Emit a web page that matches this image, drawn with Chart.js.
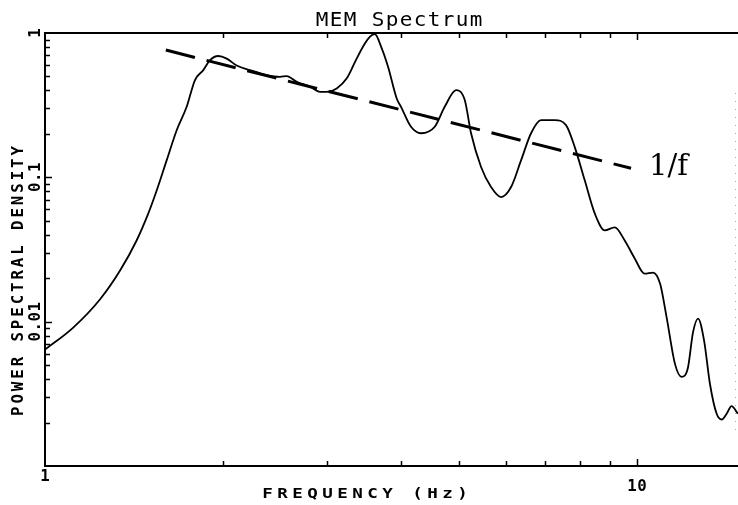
<!DOCTYPE html>
<html>
<head>
<meta charset="utf-8">
<script src="https://cdn.jsdelivr.net/npm/chart.js@4.4.1/dist/chart.umd.min.js"></script>
<style>
  html, body { margin: 0; padding: 0; background: #fff; }
  #wrap { width: 738px; height: 505px; }
</style>
</head>
<body>
<div id="wrap"><canvas id="c" width="738" height="505"></canvas></div>
<script>
// Maximum-entropy power spectrum (frequency in Hz, power spectral density)
const freq = [1.000, 1.116, 1.239, 1.339, 1.428, 1.494, 1.544, 1.605, 1.669, 1.735,
  1.792, 1.851, 1.900, 1.962, 2.027, 2.108, 2.220, 2.369, 2.494, 2.560,
  2.662, 2.804, 2.914, 2.991, 3.110, 3.234, 3.362, 3.472, 3.540, 3.605,
  3.705, 3.797, 3.927, 3.994, 4.152, 4.317, 4.553, 4.733, 4.947, 5.117,
  5.244, 5.452, 5.668, 5.893, 6.127, 6.369, 6.622, 6.884, 7.261, 7.586,
  7.849, 8.160, 8.484, 8.820, 9.170, 9.533, 9.911, 10.30, 10.64, 10.94,
  11.22, 11.59, 11.89, 12.19, 12.43, 12.68, 12.98, 13.28, 13.63, 13.90,
  14.17, 14.44, 14.81];
const psd = [0.0064, 0.0091, 0.0143, 0.0226, 0.0365, 0.056, 0.081, 0.131, 0.212, 0.308,
  0.472, 0.553, 0.649, 0.693, 0.665, 0.595, 0.553, 0.511, 0.497, 0.503,
  0.459, 0.424, 0.391, 0.391, 0.413, 0.485, 0.667, 0.848, 0.943, 0.984,
  0.783, 0.583, 0.352, 0.308, 0.224, 0.202, 0.224, 0.308, 0.402, 0.343,
  0.202, 0.118, 0.0857, 0.073, 0.0857, 0.131, 0.202, 0.249, 0.249, 0.230,
  0.162, 0.0953, 0.0562, 0.0429, 0.045, 0.0365, 0.0274, 0.0215, 0.0219, 0.0183,
  0.0107, 0.0051, 0.00415, 0.0048, 0.0084, 0.0105, 0.0074, 0.0037, 0.0023, 0.0021,
  0.0023, 0.0026, 0.0023];

// 1/f reference line endpoints
const fitFreq = [1.6, 9.77];
const fitPsd = [0.762, 0.1155];

// Axis tick labels
const xTickValues = [1, 10];
const xTickLabels = ['1', '10'];
const yTickValues = [1, 0.1, 0.01];
const yTickLabels = ['1', '0.1', '0.01'];

const titleText = 'MEM Spectrum';
const xTitle = 'FREQUENCY (Hz)';
const yTitle = 'POWER SPECTRAL DENSITY';
const fitLabel = '1/f';

const X_MIN = 1, X_MAX = 14.81, Y_MIN = 0.001, Y_MAX = 1;

// Draw text on a fixed character pitch, like a pen-plotter font
function spaced(ctx, text, cx, y, pitch, sx) {
  const x0 = cx - text.length * pitch / 2;
  for (let i = 0; i < text.length; i++) {
    const ch = text[i];
    if (ch === ' ') continue;
    ctx.save();
    ctx.translate(x0 + (i + 0.5) * pitch, y);
    ctx.scale(sx, 1);
    ctx.fillText(ch, 0, 0);
    ctx.restore();
  }
}

const plotterFrame = {
  id: 'plotterFrame',
  afterDatasetsDraw(chart) {
    const ctx = chart.ctx;
    const xs = chart.scales.x, ys = chart.scales.y;
    const a = chart.chartArea;
    ctx.save();
    ctx.strokeStyle = '#000';
    ctx.fillStyle = '#000';

    // frame: left, bottom, top
    ctx.lineWidth = 2;
    ctx.beginPath();
    ctx.moveTo(a.right, a.top); ctx.lineTo(a.left, a.top);
    ctx.lineTo(a.left, a.bottom); ctx.lineTo(a.right, a.bottom);
    ctx.stroke();

    // faint right edge
    ctx.save();
    ctx.strokeStyle = '#aaa';
    ctx.lineWidth = 1;
    ctx.setLineDash([1, 7]);
    ctx.beginPath();
    ctx.moveTo(a.right - 2.5, a.top + 60); ctx.lineTo(a.right - 2.5, a.bottom - 30);
    ctx.stroke();
    ctx.restore();

    // inward ticks on bottom and top axes
    ctx.lineWidth = 1.5;
    for (let dec = 1; dec <= 10; dec *= 10) {
      for (let m = 1; m <= 9; m++) {
        const v = m * dec;
        if (v <= X_MIN || v >= X_MAX) continue;
        const px = Math.round(xs.getPixelForValue(v)) + 0.5;
        const len = m === 1 ? 7 : 5;
        ctx.beginPath();
        ctx.moveTo(px, a.bottom); ctx.lineTo(px, a.bottom - len);
        ctx.moveTo(px, a.top); ctx.lineTo(px, a.top + len);
        ctx.stroke();
      }
    }
    // inward ticks on left axis
    for (let dec = 0.001; dec < 1; dec *= 10) {
      for (let m = 1; m <= 9; m++) {
        const v = m * dec;
        if (v <= Y_MIN * 1.0001 || v >= Y_MAX * 0.9999) continue;
        const py = Math.round(ys.getPixelForValue(v)) + 0.5;
        const len = m === 1 ? 7 : 5;
        ctx.beginPath();
        ctx.moveTo(a.left, py); ctx.lineTo(a.left + len, py);
        ctx.stroke();
      }
    }

    // tick labels
    ctx.textAlign = 'center';
    ctx.textBaseline = 'alphabetic';
    ctx.font = 'bold 15px "DejaVu Sans Mono"';
    const xBase = [481, 491];
    xTickValues.forEach((v, i) => {
      spaced(ctx, xTickLabels[i], xs.getPixelForValue(v), xBase[i], 10, 1.05);
    });
    yTickValues.forEach((v, i) => {
      ctx.save();
      ctx.translate(40, ys.getPixelForValue(v));
      ctx.rotate(-Math.PI / 2);
      spaced(ctx, yTickLabels[i], 0, 0, 10, 1.05);
      ctx.restore();
    });

    // titles
    ctx.font = '20px "DejaVu Sans Mono"';
    spaced(ctx, titleText, 399, 26, 14, 1.05);
    ctx.font = 'bold 14px "DejaVu Sans Mono"';
    spaced(ctx, xTitle, 365, 497.5, 15, 1.25);
    ctx.save();
    ctx.translate(22.5, 281);
    ctx.rotate(-Math.PI / 2);
    ctx.font = 'bold 15px "DejaVu Sans Mono"';
    spaced(ctx, yTitle, 0, 0, 12.4, 1.05);
    ctx.restore();

    // 1/f annotation next to the end of the reference line
    const ex = xs.getPixelForValue(fitFreq[fitFreq.length - 1]);
    const ey = ys.getPixelForValue(fitPsd[fitPsd.length - 1]);
    ctx.textAlign = 'left';
    ctx.font = '29px "DejaVu Serif"';
    ctx.fillText(fitLabel, ex + 18, ey + 7);

    ctx.restore();
  }
};

new Chart(document.getElementById('c'), {
  type: 'line',
  data: {
    datasets: [
      {
        label: 'MEM spectrum',
        data: freq.map((f, i) => ({ x: f, y: psd[i] })),
        borderColor: '#000',
        borderWidth: 1.8,
        pointRadius: 0,
        cubicInterpolationMode: 'monotone',
        fill: false
      },
      {
        label: '1/f',
        data: fitFreq.map((f, i) => ({ x: f, y: fitPsd[i] })),
        borderColor: '#000',
        borderWidth: 3,
        borderDash: [30, 12],
        pointRadius: 0,
        fill: false
      }
    ]
  },
  options: {
    responsive: false,
    animation: false,
    devicePixelRatio: 1,
    layout: { padding: { left: 45, top: 33, right: 0, bottom: 39 } },
    plugins: { legend: { display: false }, title: { display: false }, tooltip: { enabled: false } },
    scales: {
      x: { type: 'logarithmic', min: X_MIN, max: X_MAX, display: false },
      y: { type: 'logarithmic', min: Y_MIN, max: Y_MAX, display: false }
    }
  },
  plugins: [plotterFrame]
});
</script>
</body>
</html>
